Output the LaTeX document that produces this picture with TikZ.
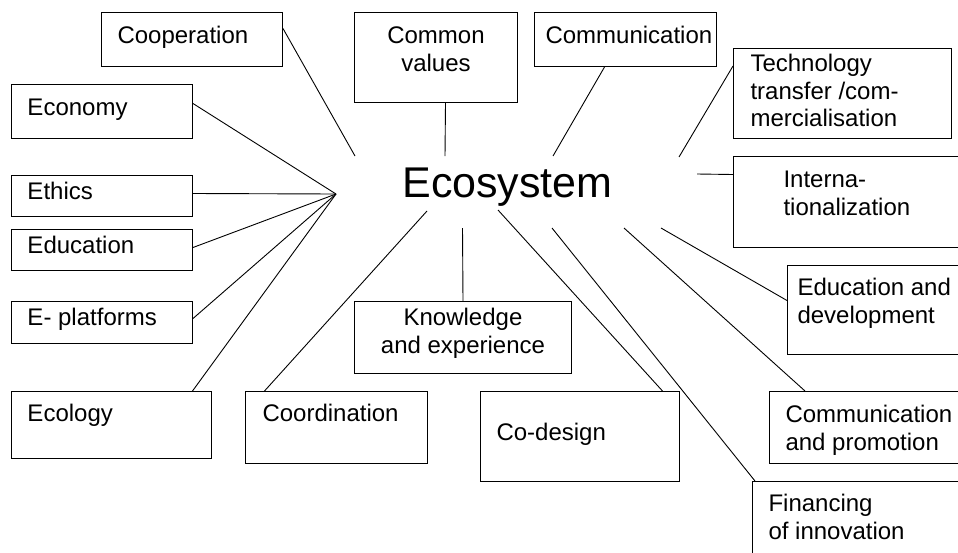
\documentclass[tikz,border=0pt]{standalone}
\usepackage{fontspec}
\setmainfont{Liberation Sans}
\newcommand{\boxtext}[5]{\parbox[b][#2pt][t]{#1pt}{\fontsize{24}{27.5}\selectfont\raggedright\leftskip=#3pt\vspace*{#4pt}\strut#5}}
\newcommand{\boxmid}[4]{\parbox[b][#2pt][t]{#1pt}{\fontsize{24}{27.5}\selectfont\centering\vspace*{#3pt}\strut#4}}
\tikzset{tbox/.style={draw, line width=1pt, inner sep=0pt, anchor=north west},
	link/.style={line width=0.9pt}}

\begin{document}
\begin{tikzpicture}[x=1pt, y=-1pt]
			%%%%% START %%%%%
			
			\useasboundingbox (0, 0) rectangle (958, 552);
			
			\node[font=\fontsize{43}{50}\selectfont, anchor=base] (eco) at (507.5, 197) {Ecosystem};
			
			\node[tbox] (coop) at (101, 12) {\boxtext{181}{54}{16}{11.75}{Cooperation}};
			\node[tbox] (common) at (354, 12) {\boxmid{163}{90}{11.75}{Common\\values}};
			\node[tbox] (comm) at (534, 12) {\boxtext{182}{54}{11}{11.75}{Communication}};
			\node[tbox] (tech) at (733, 48) {\boxtext{218}{90}{17}{3.75}{Technology\\transfer /com-\\mercialisation}};
			\node[tbox] (intern) at (733, 156) {\boxtext{240}{91}{50}{11.75}{Interna-\\tionalization}};
			
			\node[tbox] (economy) at (11, 84) {\boxtext{181}{54}{16}{11.75}{Economy}};
			\node[tbox] (ethics) at (11, 175) {\boxtext{181}{41}{16}{4.75}{Ethics}};
			\node[tbox] (educ) at (11, 229) {\boxtext{181}{41}{16}{4.75}{Education}};
			\node[tbox] (eplat) at (11, 301) {\boxtext{181}{42}{16}{4.75}{E- platforms}};
			\node[tbox] (ecology) at (11, 391) {\boxtext{200}{67}{16}{10.75}{Ecology}};
			
			\node[tbox] (coord) at (245, 391) {\boxtext{182}{72}{17}{10.75}{Coordination}};
			\node[tbox] (know) at (354, 301) {\boxmid{217}{72}{4.75}{Knowledge\\and experience}};
			\node[tbox] (codesign) at (480, 391) {\boxtext{199}{90}{16}{29.75}{Co-design}};
			
			\node[tbox] (edudev) at (787, 265) {\boxtext{180}{89}{10}{10.75}{Education and\\development}};
			\node[tbox] (comprom) at (769, 391) {\boxtext{200}{72}{16}{11.75}{Communication\\and promotion}};
			\node[tbox] (fin) at (752, 481) {\boxtext{220}{90}{16}{10.75}{Financing\\of innovation}};
			
			\coordinate (hub) at (336, 194);
			\coordinate (tCoop) at (355, 156);
			\coordinate (tCommon) at (445, 156);
			\coordinate (tComm) at (553, 156);
			\coordinate (tTech) at (679, 157);
			\coordinate (tIntern) at (697, 174);
			\coordinate (tCoord) at (427, 211);
			\coordinate (tKnow) at (462.5, 228);
			\coordinate (tCodes) at (498, 210);
			\coordinate (tFin) at (552, 228);
			\coordinate (tComprom) at (624, 228);
			\coordinate (tEdudev) at (661, 228);
			
			\draw[link] ([yshift=11pt]coop.east) -- (tCoop);
			\draw[link] ([xshift=9.5pt]common.south) -- (tCommon);
			\draw[link] ([xshift=-21pt]comm.south) -- (tComm);
			\draw[link] ([yshift=-18pt]tech.north west) -- (tTech);
			\draw[link] ([yshift=27.5pt]intern.west) -- (tIntern);
			
			\draw[link] ([yshift=8pt]economy.east) -- (hub);
			\draw[link] ([yshift=2.5pt]ethics.east) -- (hub);
			\draw[link] ([yshift=2.5pt]educ.east) -- (hub);
			\draw[link] ([yshift=4pt]eplat.east) -- (hub);
			\draw[link] ([xshift=81pt]ecology.north) -- (hub);
			
			\draw[link] ([xshift=-72pt]coord.north) -- (tCoord);
			\draw[link] (know.north) -- (tKnow);
			\draw[link] ([xshift=82.5pt]codesign.north) -- (tCodes);
			\draw[link] ([xshift=3pt]fin.north west) -- (tFin);
			\draw[link] ([xshift=36pt]comprom.north west) -- (tComprom);
			\draw[link] ([yshift=9.5pt]edudev.west) -- (tEdudev);
			
			%%%%% END %%%%%
\end{tikzpicture}
\end{document}
